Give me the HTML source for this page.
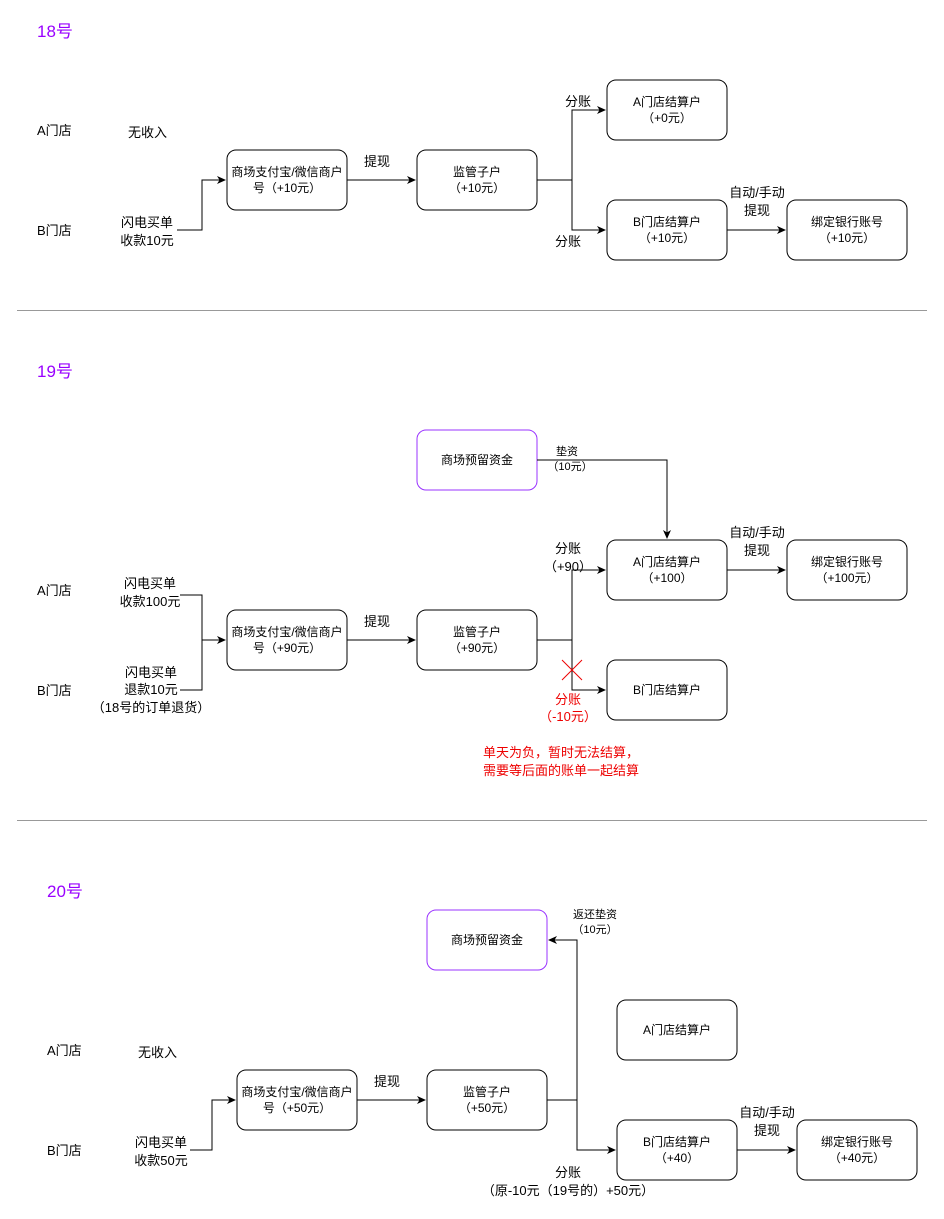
<!DOCTYPE html>
<html><head><meta charset="utf-8"><style>
html,body{margin:0;padding:0;background:#fff}
svg text{font-family:"Liberation Sans","Noto Sans CJK SC",sans-serif}
</style></head><body>
<svg width="944" height="1214" viewBox="0 0 944 1214" xmlns="http://www.w3.org/2000/svg">
<defs><marker id="a" markerWidth="10" markerHeight="10" refX="8" refY="5" orient="auto" markerUnits="userSpaceOnUse"><path d="M0,1 L9,5 L0,9 L2.5,5 Z" fill="#000"/></marker></defs>
<g fill="#fff" stroke="#000" stroke-width="1">
<rect x="227" y="150" width="120" height="60" rx="9"/>
<rect x="417" y="150" width="120" height="60" rx="9"/>
<rect x="607" y="80" width="120" height="60" rx="9"/>
<rect x="607" y="200" width="120" height="60" rx="9"/>
<rect x="787" y="200" width="120" height="60" rx="9"/>
<rect x="417" y="430" width="120" height="60" rx="9" stroke="#9933ff"/>
<rect x="607" y="540" width="120" height="60" rx="9"/>
<rect x="787" y="540" width="120" height="60" rx="9"/>
<rect x="607" y="660" width="120" height="60" rx="9"/>
<rect x="227" y="610" width="120" height="60" rx="9"/>
<rect x="417" y="610" width="120" height="60" rx="9"/>
<rect x="427" y="910" width="120" height="60" rx="9" stroke="#9933ff"/>
<rect x="617" y="1000" width="120" height="60" rx="9"/>
<rect x="617" y="1120" width="120" height="60" rx="9"/>
<rect x="797" y="1120" width="120" height="60" rx="9"/>
<rect x="237" y="1070" width="120" height="60" rx="9"/>
<rect x="427" y="1070" width="120" height="60" rx="9"/>
</g>
<g stroke="#999" stroke-width="1"><line x1="17" y1="310.5" x2="927" y2="310.5"/><line x1="17" y1="820.5" x2="927" y2="820.5"/></g>
<g fill="none" stroke="#000" stroke-width="1">
<path d="M177,230 H202 V180 H225" marker-end="url(#a)"/>
<path d="M347,180 H415" marker-end="url(#a)"/>
<path d="M537,180 H572 V110 H605" marker-end="url(#a)"/>
<path d="M572,180 V230 H605" marker-end="url(#a)"/>
<path d="M727,230 H785" marker-end="url(#a)"/>
<path d="M537,460 H667 V538" marker-end="url(#a)"/>
<path d="M180,595 H202 V690 H180"/>
<path d="M202,640 H225" marker-end="url(#a)"/>
<path d="M347,640 H415" marker-end="url(#a)"/>
<path d="M537,640 H572 V570 H605" marker-end="url(#a)"/>
<path d="M572,640 V690 H605" marker-end="url(#a)"/>
<path d="M727,570 H785" marker-end="url(#a)"/>
<path d="M190,1150 H212 V1100 H235" marker-end="url(#a)"/>
<path d="M357,1100 H425" marker-end="url(#a)"/>
<path d="M547,1100 H577 V940 H549" marker-end="url(#a)"/>
<path d="M577,1100 V1150 H615" marker-end="url(#a)"/>
<path d="M737,1150 H795" marker-end="url(#a)"/>
</g>
<g stroke="#e00" stroke-width="1"><line x1="562" y1="660" x2="582" y2="680"/><line x1="582" y1="660" x2="562" y2="680"/></g>
<g font-size="17" fill="#9900ff"><text x="37" y="37">18号</text><text x="37" y="377">19号</text><text x="47" y="897">20号</text></g>
<g font-size="13" fill="#000">
<text x="37" y="135">A门店</text><text x="128" y="137">无收入</text><text x="37" y="235">B门店</text>
<text x="147" y="227" text-anchor="middle">闪电买单</text><text x="147" y="245" text-anchor="middle">收款10元</text>
<text x="377" y="166" text-anchor="middle">提现</text>
<text x="578" y="106" text-anchor="middle">分账</text><text x="568" y="246" text-anchor="middle">分账</text>
<text x="757" y="197" text-anchor="middle">自动/手动</text><text x="757" y="215" text-anchor="middle">提现</text>
<text x="37" y="595">A门店</text><text x="37" y="695">B门店</text>
<text x="150" y="588" text-anchor="middle">闪电买单</text><text x="150" y="606" text-anchor="middle">收款100元</text>
<text x="151" y="677" text-anchor="middle">闪电买单</text><text x="151" y="694" text-anchor="middle">退款10元</text><text x="151" y="712" text-anchor="middle">（18号的订单退货）</text>
<text x="377" y="626" text-anchor="middle">提现</text>
<text x="568" y="553" text-anchor="middle">分账</text><text x="568" y="571" text-anchor="middle">（+90）</text>
<text x="757" y="537" text-anchor="middle">自动/手动</text><text x="757" y="555" text-anchor="middle">提现</text>
<text x="47" y="1055">A门店</text><text x="138" y="1057">无收入</text><text x="47" y="1155">B门店</text>
<text x="161" y="1147" text-anchor="middle">闪电买单</text><text x="161" y="1165" text-anchor="middle">收款50元</text>
<text x="387" y="1086" text-anchor="middle">提现</text>
<text x="767" y="1117" text-anchor="middle">自动/手动</text><text x="767" y="1135" text-anchor="middle">提现</text>
<text x="568" y="1177" text-anchor="middle">分账</text><text x="568" y="1195" text-anchor="middle">（原-10元（19号的）+50元）</text>
</g>
<g font-size="13" fill="#e00">
<text x="568" y="704" text-anchor="middle">分账</text><text x="568" y="721" text-anchor="middle">（-10元）</text>
<text x="483" y="757">单天为负，暂时无法结算，</text><text x="483" y="775">需要等后面的账单一起结算</text>
</g>
<g font-size="11" fill="#000" text-anchor="middle">
<text x="567" y="455">垫资</text><text x="570" y="470">（10元）</text>
<text x="595" y="918">返还垫资</text><text x="595" y="933">（10元）</text>
</g>
<g font-size="12" fill="#000" text-anchor="middle">
<text x="287" y="176">商场支付宝/微信商户</text><text x="287" y="192">号（+10元）</text>
<text x="477" y="176">监管子户</text><text x="477" y="192">（+10元）</text>
<text x="667" y="106">A门店结算户</text><text x="667" y="122">（+0元）</text>
<text x="667" y="226">B门店结算户</text><text x="667" y="242">（+10元）</text>
<text x="847" y="226">绑定银行账号</text><text x="847" y="242">（+10元）</text>
<text x="477" y="464">商场预留资金</text>
<text x="667" y="566">A门店结算户</text><text x="667" y="582">（+100）</text>
<text x="847" y="566">绑定银行账号</text><text x="847" y="582">（+100元）</text>
<text x="667" y="694">B门店结算户</text>
<text x="287" y="636">商场支付宝/微信商户</text><text x="287" y="652">号（+90元）</text>
<text x="477" y="636">监管子户</text><text x="477" y="652">（+90元）</text>
<text x="487" y="944">商场预留资金</text>
<text x="677" y="1034">A门店结算户</text>
<text x="677" y="1146">B门店结算户</text><text x="677" y="1162">（+40）</text>
<text x="857" y="1146">绑定银行账号</text><text x="857" y="1162">（+40元）</text>
<text x="297" y="1096">商场支付宝/微信商户</text><text x="297" y="1112">号（+50元）</text>
<text x="487" y="1096">监管子户</text><text x="487" y="1112">（+50元）</text>
</g>
</svg>
</body></html>
